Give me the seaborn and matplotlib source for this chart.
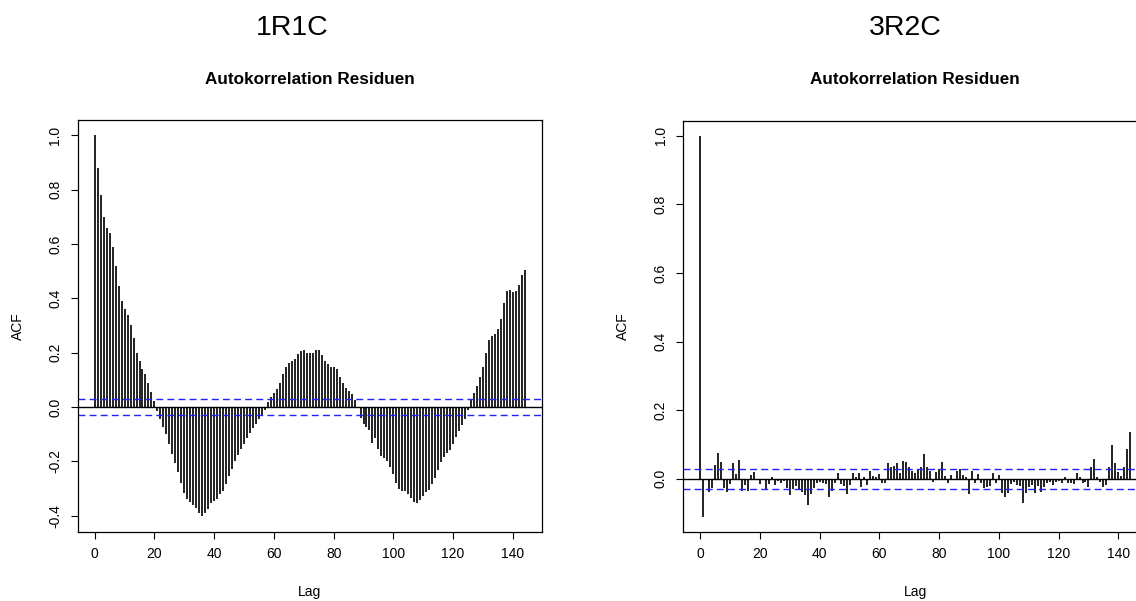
import matplotlib
matplotlib.use("Agg")
import matplotlib.pyplot as plt
import numpy as np
import seaborn as sns

# ACF der Residuen (Lag 0..144)
acf_1r1c = [
    1.00, 0.88, 0.78, 0.70, 0.66, 0.64, 0.59, 0.52, 0.445, 0.39,
    0.36, 0.34, 0.30, 0.255, 0.20, 0.17, 0.14, 0.12, 0.09, 0.056,
    0.022, -0.015, -0.044, -0.075, -0.10, -0.137, -0.172, -0.207, -0.24, -0.28,
    -0.315, -0.34, -0.348, -0.36, -0.373, -0.39, -0.402, -0.39, -0.375, -0.355,
    -0.345, -0.34, -0.32, -0.31, -0.285, -0.255, -0.228, -0.20, -0.175, -0.155,
    -0.135, -0.115, -0.095, -0.078, -0.062, -0.045, -0.028, -0.01, 0.02, 0.038,
    0.05, 0.065, 0.09, 0.12, 0.148, 0.163, 0.168, 0.176, 0.195, 0.207,
    0.209, 0.20, 0.197, 0.20, 0.209, 0.209, 0.191, 0.169, 0.157, 0.148,
    0.148, 0.139, 0.111, 0.087, 0.071, 0.059, 0.048, 0.026, -0.005, -0.042,
    -0.064, -0.072, -0.084, -0.133, -0.113, -0.155, -0.18, -0.188, -0.20, -0.219,
    -0.246, -0.28, -0.302, -0.31, -0.31, -0.319, -0.335, -0.351, -0.353, -0.343,
    -0.326, -0.314, -0.307, -0.282, -0.262, -0.231, -0.204, -0.185, -0.17, -0.158,
    -0.135, -0.11, -0.088, -0.065, -0.043, -0.012, 0.026, 0.053, 0.077, 0.109,
    0.148, 0.199, 0.248, 0.262, 0.27, 0.286, 0.325, 0.383, 0.427, 0.432,
    0.423, 0.427, 0.45, 0.484, 0.505,
]

acf_3r2c = [
    1.00, -0.111, -0.004, -0.038, -0.028, 0.04, 0.074, 0.048, -0.028, -0.038,
    -0.016, 0.045, 0.013, 0.054, -0.035, -0.018, -0.035, 0.011, 0.02, -0.004,
    -0.016, -0.002, -0.031, -0.016, 0.006, -0.017, -0.006, -0.014, -0.006, -0.028,
    -0.048, -0.031, -0.021, -0.033, -0.038, -0.048, -0.077, -0.045, -0.028, -0.014,
    -0.009, -0.012, -0.016, -0.054, -0.035, -0.014, 0.018, -0.016, -0.021, -0.045,
    -0.018, 0.016, 0.006, 0.016, -0.023, 0.004, -0.018, 0.022, 0.008, 0.006,
    0.013, -0.012, -0.012, 0.045, 0.033, 0.037, 0.045, 0.017, 0.052, 0.05,
    0.035, 0.023, 0.017, 0.028, 0.035, 0.071, 0.035, 0.023, -0.01, 0.02,
    0.029, 0.048, 0.008, -0.014, 0.012, -0.004, 0.021, 0.029, 0.01, 0.006,
    -0.046, 0.021, -0.014, 0.014, -0.012, -0.028, -0.025, -0.021, 0.016, -0.012,
    0.012, -0.043, -0.052, -0.041, -0.016, -0.009, -0.018, -0.021, -0.07, -0.041,
    -0.025, -0.018, -0.041, -0.021, -0.038, -0.025, -0.014, -0.009, -0.018, -0.009,
    -0.006, -0.012, 0.006, -0.012, -0.014, -0.016, 0.016, 0.006, -0.014, -0.009,
    -0.023, 0.033, 0.056, 0.006, -0.009, -0.025, -0.018, 0.035, 0.098, 0.047,
    0.02, 0.008, 0.035, 0.086, 0.136,
]

panel_names = ["1R1C", "3R2C"]
ci_band = 0.029          # 95%-Grenze (blau gestrichelt)
x_ticks = [0, 20, 40, 60, 80, 100, 120, 140]

sns.set_style("ticks")
plt.rcParams['font.family'] = ['Liberation Sans', 'DejaVu Sans']
plt.rcParams['axes.unicode_minus'] = False
plt.rcParams['text.color'] = 'black'
plt.rcParams['axes.labelcolor'] = 'black'
plt.rcParams['xtick.color'] = 'black'
plt.rcParams['ytick.color'] = 'black'

W, H = 1136, 601
fig = plt.figure(figsize=(W / 100, H / 100), dpi=100)


def draw_acf(ax, values, yticks):
    lags = np.arange(len(values))
    vals = np.array(values)
    ax.vlines(lags, 0, vals, color="#111111", linewidth=1.3)
    ax.axhline(0, color="black", linewidth=1.0)
    ax.axhline(ci_band, color="#2222ff", linewidth=1.0, linestyle=(0, (5, 3)))
    ax.axhline(-ci_band, color="#2222ff", linewidth=1.0, linestyle=(0, (5, 3)))
    # R-Stil: 4% Rand
    xr = lags.max() - lags.min()
    ax.set_xlim(-0.04 * xr, lags.max() + 0.04 * xr)
    yr = vals.max() - vals.min()
    ax.set_ylim(vals.min() - 0.04 * yr, vals.max() + 0.04 * yr)
    ax.set_xticks(x_ticks)
    ax.set_yticks(yticks)
    ax.set_yticklabels([f"{t:.1f}" for t in yticks], rotation=90, va="center")
    ax.tick_params(axis="both", direction="out", length=5, width=0.8,
                   labelsize=10, colors="black")
    ax.tick_params(axis="x", pad=6)
    ax.tick_params(axis="y", pad=6)
    for sp in ax.spines.values():
        sp.set_visible(True)
        sp.set_color("black")
        sp.set_linewidth(0.9)


# Achsen in Pixelkoordinaten (wie im Original, rechtes Panel ragt über den Rand)
panels = [
    (77.5, 120, 464.5, 411.5, acf_1r1c, [-0.4, -0.2, 0.0, 0.2, 0.4, 0.6, 0.8, 1.0], 292),
    (683, 120.5, 464.5, 411.5, acf_3r2c, [0.0, 0.2, 0.4, 0.6, 0.8, 1.0], 905),
]

for name, (px, py, pw, ph, vals, yt, cx) in zip(panel_names, panels):
    ax = fig.add_axes([px / W, 1 - (py + ph) / H, pw / W, ph / H])
    draw_acf(ax, vals, yt)
    # großer Titel
    fig.text(cx / W, 1 - 28 / H, name, ha="center", va="center", fontsize=20.5)
    # Untertitel
    fig.text((px + pw / 2) / W, 1 - 80 / H, "Autokorrelation Residuen",
             ha="center", va="center", fontsize=12.3, fontweight="bold")
    fig.text((px + pw / 2) / W, 1 - 592 / H, "Lag", ha="center", va="center", fontsize=10)
    fig.text((px - 60) / W, 1 - (py + ph / 2) / H, "ACF", ha="center", va="center",
             rotation=90, fontsize=10)

fig.savefig("out.png", dpi=100)
